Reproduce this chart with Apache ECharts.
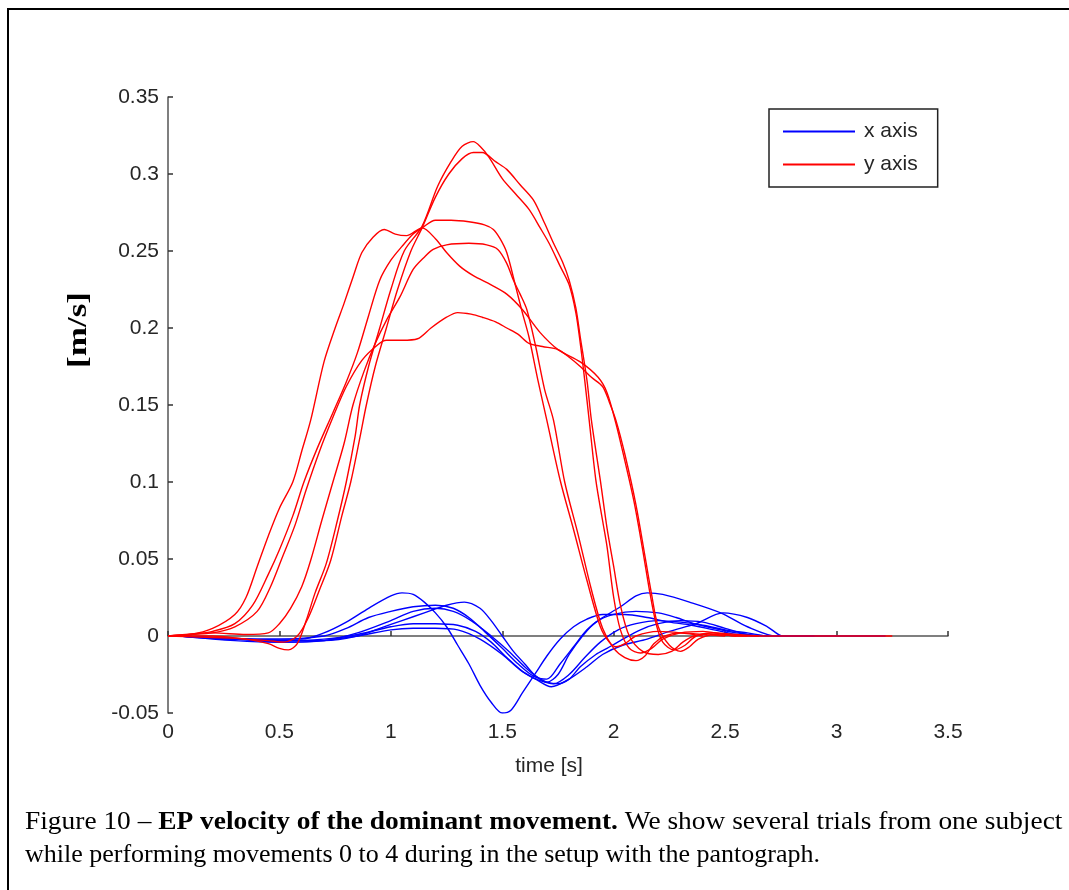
<!DOCTYPE html>
<html>
<head>
<meta charset="utf-8">
<script src="https://cdn.jsdelivr.net/npm/echarts@6/dist/echarts.min.js"></script>
<style>
  html, body { margin: 0; padding: 0; background: #fff; }
  #chart { width: 1069px; height: 890px; }
</style>
</head>
<body>
<div id="chart"></div>
<script>
// tick labels
var xTicks = [0, 0.5, 1, 1.5, 2, 2.5, 3, 3.5];
var yTicks = [-0.05, 0, 0.05, 0.1, 0.15, 0.2, 0.25, 0.3, 0.35];

// x axis velocity, one array per trial: [time s, velocity m/s]
var xTrial1 = [[0.05,0],[0.2,-0.001],[0.4,-0.002],[0.6,-0.002],[0.7,0.002],[0.8,0.009],[0.9,0.018],[1.0,0.026],[1.05,0.028],[1.1,0.027],[1.15,0.022],[1.2,0.015],[1.25,0.006],[1.3,-0.006],[1.35,-0.018],[1.4,-0.032],[1.45,-0.043],[1.5,-0.05],[1.54,-0.048],[1.59,-0.037],[1.65,-0.024],[1.7,-0.013],[1.76,-0.002],[1.82,0.006],[1.88,0.011],[1.95,0.014],[2.05,0.014],[2.15,0.012],[2.25,0.009],[2.35,0.007],[2.45,0.004],[2.55,0.001],[2.65,0]];
var xTrial2 = [[0.05,0],[0.3,-0.002],[0.5,-0.003],[0.7,-0.003],[0.85,0.0],[0.95,0.005],[1.05,0.01],[1.15,0.015],[1.25,0.02],[1.33,0.022],[1.4,0.018],[1.45,0.01],[1.5,0.0],[1.55,-0.01],[1.6,-0.018],[1.65,-0.026],[1.7,-0.03],[1.75,-0.031],[1.8,-0.028],[1.85,-0.02],[1.92,-0.012],[1.97,-0.008],[2.03,-0.003],[2.12,0.004],[2.2,0.008],[2.3,0.01],[2.4,0.009],[2.5,0.005],[2.6,0.001],[2.7,0]];
var xTrial3 = [[0.05,0],[0.3,-0.002],[0.5,-0.002],[0.7,0.0],[0.8,0.005],[0.9,0.012],[1.0,0.016],[1.1,0.019],[1.2,0.02],[1.28,0.018],[1.35,0.012],[1.42,0.003],[1.5,-0.008],[1.57,-0.018],[1.64,-0.026],[1.7,-0.028],[1.76,-0.018],[1.82,-0.007],[1.88,0.004],[1.94,0.011],[2.03,0.019],[2.1,0.026],[2.15,0.028],[2.22,0.027],[2.34,0.022],[2.48,0.015],[2.6,0.006],[2.73,0.0],[2.9,0]];
var xTrial4 = [[0.05,0],[0.3,-0.002],[0.5,-0.004],[0.7,-0.003],[0.85,0.002],[1.0,0.01],[1.1,0.016],[1.2,0.018],[1.28,0.016],[1.36,0.01],[1.45,0.0],[1.53,-0.01],[1.6,-0.02],[1.65,-0.026],[1.7,-0.03],[1.75,-0.025],[1.8,-0.012],[1.86,0.0],[1.92,0.009],[2.0,0.014],[2.1,0.016],[2.2,0.015],[2.28,0.012],[2.36,0.008],[2.45,0.005],[2.55,0.002],[2.65,0]];
var xTrial5 = [[0.05,0],[0.3,-0.003],[0.5,-0.004],[0.7,-0.003],[0.85,0.0],[1.0,0.004],[1.1,0.005],[1.2,0.005],[1.3,0.004],[1.4,-0.002],[1.5,-0.012],[1.58,-0.022],[1.65,-0.028],[1.72,-0.033],[1.8,-0.028],[1.88,-0.02],[1.95,-0.012],[2.04,-0.006],[2.15,-0.002],[2.25,0.003],[2.37,0.008],[2.49,0.015],[2.6,0.012],[2.69,0.006],[2.76,0.0],[2.9,0]];
var xTrial6 = [[0.05,0],[0.3,-0.002],[0.5,-0.003],[0.7,-0.002],[0.85,0.001],[1.0,0.006],[1.1,0.008],[1.2,0.008],[1.3,0.007],[1.38,0.003],[1.45,-0.004],[1.52,-0.014],[1.6,-0.024],[1.67,-0.029],[1.73,-0.031],[1.8,-0.025],[1.87,-0.014],[1.94,-0.004],[2.02,0.004],[2.1,0.008],[2.2,0.01],[2.3,0.009],[2.4,0.007],[2.5,0.004],[2.6,0.002],[2.7,0],[3.22,0]];

// y axis velocity
var yTrial1 = [[0,0],[0.1,0.001],[0.2,0.005],[0.3,0.014],[0.35,0.025],[0.4,0.045],[0.45,0.065],[0.5,0.083],[0.56,0.1],[0.6,0.12],[0.64,0.14],[0.7,0.178],[0.75,0.2],[0.79,0.216],[0.83,0.233],[0.87,0.249],[0.92,0.259],[0.97,0.264],[1.02,0.261],[1.07,0.26],[1.14,0.265],[1.2,0.258],[1.25,0.249],[1.31,0.24],[1.37,0.234],[1.45,0.228],[1.52,0.222],[1.59,0.212],[1.67,0.197],[1.75,0.186],[1.85,0.178],[1.93,0.168],[1.97,0.158],[2.01,0.138],[2.04,0.12],[2.09,0.088],[2.13,0.056],[2.16,0.03],[2.19,0.008],[2.22,-0.004],[2.27,-0.009],[2.32,-0.006],[2.37,0],[2.45,0.002],[2.55,0.001],[2.65,0]];
var yTrial2 = [[0,0],[0.1,0.001],[0.2,0.003],[0.3,0.008],[0.38,0.02],[0.45,0.04],[0.5,0.056],[0.56,0.078],[0.61,0.1],[0.67,0.122],[0.74,0.145],[0.8,0.165],[0.85,0.184],[0.9,0.208],[0.95,0.231],[1.0,0.244],[1.05,0.253],[1.1,0.261],[1.14,0.265],[1.2,0.27],[1.27,0.27],[1.35,0.269],[1.42,0.267],[1.46,0.264],[1.49,0.258],[1.52,0.249],[1.56,0.227],[1.59,0.21],[1.62,0.194],[1.66,0.166],[1.7,0.14],[1.76,0.101],[1.82,0.069],[1.88,0.036],[1.94,0.006],[1.98,-0.004],[2.01,-0.007],[2.05,-0.005],[2.1,0.0],[2.2,0.003],[2.3,0.002],[2.4,0]];
var yTrial3 = [[0,0],[0.1,0.001],[0.2,0.002],[0.3,0.006],[0.4,0.016],[0.46,0.032],[0.51,0.05],[0.57,0.072],[0.62,0.095],[0.68,0.12],[0.74,0.142],[0.8,0.162],[0.87,0.179],[0.94,0.189],[0.98,0.192],[1.05,0.192],[1.12,0.193],[1.18,0.2],[1.25,0.207],[1.3,0.21],[1.36,0.209],[1.41,0.207],[1.47,0.204],[1.52,0.2],[1.57,0.196],[1.62,0.19],[1.68,0.188],[1.75,0.186],[1.8,0.181],[1.85,0.175],[1.9,0.168],[1.95,0.162],[1.98,0.152],[2.01,0.14],[2.05,0.118],[2.1,0.085],[2.14,0.052],[2.17,0.027],[2.2,0.006],[2.25,-0.006],[2.3,-0.01],[2.34,-0.007],[2.38,-0.002],[2.45,0.001],[2.55,0]];
var yTrial4 = [[0,0],[0.2,0.002],[0.35,0.001],[0.45,0.002],[0.5,0.008],[0.55,0.018],[0.6,0.032],[0.64,0.049],[0.69,0.075],[0.74,0.1],[0.79,0.125],[0.83,0.15],[0.88,0.172],[0.93,0.19],[0.98,0.205],[1.04,0.22],[1.1,0.238],[1.15,0.246],[1.19,0.251],[1.25,0.254],[1.35,0.255],[1.43,0.254],[1.48,0.251],[1.52,0.242],[1.55,0.231],[1.58,0.222],[1.61,0.212],[1.65,0.188],[1.69,0.16],[1.73,0.14],[1.78,0.1],[1.84,0.066],[1.9,0.03],[1.95,0.005],[2.0,-0.008],[2.05,-0.014],[2.1,-0.016],[2.14,-0.013],[2.18,-0.005],[2.23,0.0],[2.3,0.002],[2.4,0.001],[2.5,0]];
var yTrial5 = [[0,0],[0.2,-0.001],[0.35,-0.002],[0.45,-0.005],[0.5,-0.008],[0.54,-0.009],[0.58,-0.005],[0.62,0.01],[0.66,0.028],[0.71,0.047],[0.76,0.075],[0.8,0.1],[0.84,0.13],[0.86,0.15],[0.9,0.175],[0.95,0.2],[1.0,0.225],[1.06,0.25],[1.14,0.266],[1.21,0.292],[1.27,0.308],[1.32,0.318],[1.37,0.321],[1.4,0.318],[1.44,0.311],[1.5,0.297],[1.56,0.287],[1.62,0.277],[1.67,0.265],[1.71,0.255],[1.76,0.24],[1.8,0.228],[1.83,0.21],[1.85,0.19],[1.87,0.166],[1.89,0.14],[1.92,0.101],[1.95,0.075],[1.97,0.058],[2.0,0.025],[2.03,0.004],[2.07,-0.008],[2.12,-0.011],[2.17,-0.008],[2.22,-0.002],[2.3,0.002],[2.4,0.003],[2.5,0.001],[2.6,0]];
var yTrial6 = [[0,0],[0.2,0.0],[0.35,-0.002],[0.45,-0.003],[0.52,-0.004],[0.58,0.0],[0.63,0.012],[0.68,0.03],[0.73,0.049],[0.78,0.078],[0.82,0.1],[0.86,0.128],[0.89,0.15],[0.93,0.175],[0.98,0.2],[1.03,0.225],[1.09,0.25],[1.14,0.265],[1.2,0.285],[1.26,0.3],[1.32,0.31],[1.37,0.314],[1.41,0.314],[1.47,0.308],[1.52,0.303],[1.58,0.293],[1.64,0.283],[1.69,0.268],[1.73,0.255],[1.77,0.243],[1.8,0.231],[1.83,0.213],[1.85,0.194],[1.88,0.166],[1.9,0.14],[1.94,0.101],[1.97,0.07],[2.0,0.045],[2.03,0.02],[2.07,0.0],[2.13,-0.01],[2.2,-0.012],[2.26,-0.01],[2.31,-0.004],[2.36,0.0],[2.45,0.002],[2.55,0.0],[3.25,0]];

var xTrials = [xTrial1, xTrial2, xTrial3, xTrial4, xTrial5, xTrial6];
var yTrials = [yTrial1, yTrial2, yTrial3, yTrial4, yTrial5, yTrial6];
var legendNames = ['x axis', 'y axis'];

var dom = document.getElementById('chart');
var myChart = echarts.init(dom, null, { renderer: 'canvas' });

function makeSeries(data, name, color) {
    return {
        name: name,
        type: 'line',
        data: data,
        showSymbol: false,
        symbol: 'none',
        smooth: 0.3,
        itemStyle: { color: color },
        lineStyle: { color: color, width: 1.4 },
        emphasis: { disabled: true }
    };
}

var series = [];
xTrials.forEach(function (d) { series.push(makeSeries(d, legendNames[0], '#0000ff')); });
yTrials.forEach(function (d) { series.push(makeSeries(d, legendNames[1], '#ff0000')); });

var axisFont = { fontFamily: 'Liberation Sans', fontSize: 21, color: '#262626' };

var option = {
    animation: false,
    backgroundColor: '#fff',
    grid: { left: 168, right: 121, top: 97, bottom: 177 },
    //图例组件
    legend: {
        data: legendNames,
        orient: 'vertical',
        left: 769,
        top: 109,
        padding: [12, 20, 12, 14],
        itemGap: 12,
        icon: 'rect',
        itemWidth: 72,
        itemHeight: 2,
        borderColor: '#222',
        borderWidth: 1.5,
        backgroundColor: '#fff',
        textStyle: { fontFamily: 'Liberation Sans', fontSize: 21, color: '#262626', padding: [0, 0, 0, 4] }
    },
    xAxis: {
        type: 'value',
        min: 0,
        max: 3.5,
        interval: 0.5,
        name: 'time [s]',
        nameLocation: 'middle',
        nameGap: 43,
        nameTextStyle: Object.assign({ padding: [0, 18, 0, 0] }, axisFont),
        axisLine: { lineStyle: { color: '#555', width: 1.5 } },
        axisTick: { inside: true, length: 5, lineStyle: { color: '#333', width: 1.5 } },
        axisLabel: Object.assign({ margin: 9 }, axisFont),
        splitLine: { show: false }
    },
    yAxis: {
        type: 'value',
        min: -0.05,
        max: 0.35,
        interval: 0.05,
        axisLine: { show: true, lineStyle: { color: '#555', width: 1.5 } },
        axisTick: { show: true, inside: true, length: 5, lineStyle: { color: '#333', width: 1.5 } },
        axisLabel: Object.assign({ margin: 9 }, axisFont),
        splitLine: { show: false }
    },
    graphic: [
        {
            type: 'rect',
            shape: { x: 8, y: 9, width: 1200, height: 1000 },
            style: { fill: 'none', stroke: '#000', lineWidth: 2 },
            silent: true
        },
        {
            // y axis name, stretched along its length like the original
            type: 'text',
            x: 79,
            y: 330,
            rotation: Math.PI / 2,
            scaleX: 1.3,
            style: {
                text: '[m/s]',
                font: 'bold 27px "Liberation Serif"',
                fill: '#000',
                align: 'center',
                verticalAlign: 'middle'
            },
            silent: true
        },
        {
            // caption, first line justified to the full width
            type: 'text',
            x: 25,
            y: 822,
            scaleX: 1.054,
            style: {
                text: 'Figure 10 – {b|EP velocity of the dominant movement.} We show several trials from one subject',
                font: '26px "Liberation Serif"',
                fill: '#000',
                verticalAlign: 'middle',
                rich: {
                    b: { fontWeight: 'bold', fontFamily: 'Liberation Serif', fontSize: 26 }
                }
            },
            silent: true
        },
        {
            type: 'text',
            x: 25,
            y: 855,
            style: {
                text: 'while performing movements 0 to 4 during in the setup with the pantograph.',
                font: '26px "Liberation Serif"',
                fill: '#000',
                verticalAlign: 'middle'
            },
            silent: true
        }
    ],
    series: series
};

myChart.setOption(option, true);
</script>
</body>
</html>
